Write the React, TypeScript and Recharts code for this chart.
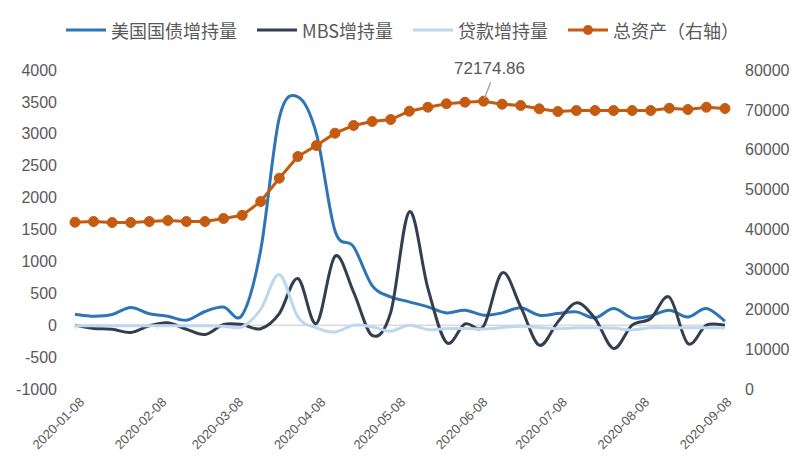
import React from 'react';
import { LineChart, Line, XAxis, YAxis, ReferenceLine } from 'recharts';

// weekly Fed balance sheet changes (亿美元), Wednesdays
const dates = [
  '2020-01-08', '2020-01-15', '2020-01-22', '2020-01-29', '2020-02-05', '2020-02-12',
  '2020-02-19', '2020-02-26', '2020-03-04', '2020-03-11', '2020-03-18', '2020-03-25',
  '2020-04-01', '2020-04-08', '2020-04-15', '2020-04-22', '2020-04-29', '2020-05-06',
  '2020-05-13', '2020-05-20', '2020-05-27', '2020-06-03', '2020-06-10', '2020-06-17',
  '2020-06-24', '2020-07-01', '2020-07-08', '2020-07-15', '2020-07-22', '2020-07-29',
  '2020-08-05', '2020-08-12', '2020-08-19', '2020-08-26', '2020-09-02', '2020-09-09',
];
const treasury = [
  172, 141, 167, 277, 180, 141, 78, 215, 285, 157, 1180, 3250,
  3580, 3000, 1480, 1230, 620, 444, 366, 287, 193, 235, 157, 193,
  272, 157, 183, 209, 115, 261, 115, 146, 235, 130, 261, 63,
];
const mbs = [
  0, -52, -63, -115, -10, 37, -63, -146, 10, 10, -55, 183,
  732, 26, 1081, 520, -160, 200, 1780, 580, -270, 20, -15, 820,
  287, -313, 52, 350, 105, -366, 0, 105, 440, -287, 0, 0,
];
const loans = [
  -10, -10, -10, -10, -10, -10, -10, -10, -15, -26, 250, 794,
  130, -42, -105, 0, -26, -95, 0, -70, -52, -52, -60, -36,
  -16, -36, -55, -40, -40, -45, -75, -40, -40, -40, -40, -45,
];
const totalAssets = [
  41830, 42000, 41750, 41750, 42000, 42250, 42000, 42000, 42760, 43560, 47020, 52860,
  58300, 61060, 64150, 66080, 67080, 67580, 69660, 70670, 71520, 71920, 72174.86, 71420,
  71090, 70260, 69590, 69840, 69840, 69840, 69840, 69840, 70420, 70090, 70670, 70340,
];
const monthTicks = [
  '2020-01-08', '2020-02-08', '2020-03-08', '2020-04-08', '2020-05-08',
  '2020-06-08', '2020-07-08', '2020-08-08', '2020-09-08',
];
const leftTicks = [-1000, -500, 0, 500, 1000, 1500, 2000, 2500, 3000, 3500, 4000];
const rightTicks = [0, 10000, 20000, 30000, 40000, 50000, 60000, 70000, 80000];

const C_TREASURY = '#2E75B6';
const C_MBS = '#333F50';
const C_LOANS = '#BDD7EE';
const C_TOTAL = '#C55A11';
const TEXT = '#595959';

const start = Date.parse(dates[0]);
const toDay = (d: string) => Math.round((Date.parse(d) - start) / 86400000);
const tickDays = monthTicks.map(toDay);

const data = dates.map((d, i) => ({
  day: toDay(d),
  treasury: treasury[i],
  mbs: mbs[i],
  loans: loans[i],
  total: totalAssets[i],
}));

const peakIdx = totalAssets.indexOf(Math.max(...totalAssets));

// Excel-style smoothed line (Catmull-Rom through the points)
const smooth = (context: any) => {
  let pts: number[][] = [];
  return {
    areaStart() {},
    areaEnd() {},
    lineStart() {
      pts = [];
    },
    point(x: number, y: number) {
      pts.push([+x, +y]);
    },
    lineEnd() {
      if (!pts.length) return;
      context.moveTo(pts[0][0], pts[0][1]);
      for (let i = 0; i < pts.length - 1; i++) {
        const p0 = pts[i - 1] || pts[i];
        const p1 = pts[i];
        const p2 = pts[i + 1];
        const p3 = pts[i + 2] || p2;
        context.bezierCurveTo(
          p1[0] + (p2[0] - p0[0]) / 6,
          p1[1] + (p2[1] - p0[1]) / 6,
          p2[0] - (p3[0] - p1[0]) / 6,
          p2[1] - (p3[1] - p1[1]) / 6,
          p2[0],
          p2[1],
        );
      }
    },
  };
};

const DateTick = ({ x, y, payload }: any) => {
  const label = monthTicks[tickDays.indexOf(payload.value)];
  return (
    <g transform={`translate(${x + 10},${y + 14})`}>
      <text textAnchor="end" transform="rotate(-45)" fontSize={13} fill={TEXT}>
        {label}
      </text>
    </g>
  );
};

const PeakLabel = (props: any) => {
  const { x, y, index, value } = props;
  if (index !== peakIdx) return null;
  return (
    <g>
      <line x1={x + 7} y1={y - 19} x2={x + 1} y2={y - 3} stroke="#A6A6A6" strokeWidth={1.5} />
      <text x={x + 6} y={y - 27} textAnchor="middle" fontSize={17} fill={TEXT}>
        {value}
      </text>
    </g>
  );
};

const legendItems = [
  { name: '美国国债增持量', color: C_TREASURY, dot: false },
  { name: 'MBS增持量', color: C_MBS, dot: false },
  { name: '贷款增持量', color: C_LOANS, dot: false },
  { name: '总资产（右轴）', color: C_TOTAL, dot: true },
];

export default function App() {
  return (
    <div style={{ position: 'relative', width: 805, height: 473, background: '#fff' }}>
      <style>{'body{margin:0}'}</style>
      {/* Legend */}
      <div
        style={{
          position: 'absolute',
          top: 17,
          left: 0,
          width: 805,
          display: 'flex',
          justifyContent: 'center',
          gap: 20,
          fontFamily: '"Noto Sans CJK SC", sans-serif',
          fontSize: 18,
          color: TEXT,
          zIndex: 1,
        }}
      >
        {legendItems.map((item) => (
          <div key={item.name} style={{ display: 'flex', alignItems: 'center', gap: 5 }}>
            <svg width={40} height={12}>
              <line x1={0} y1={6} x2={40} y2={6} stroke={item.color} strokeWidth={3} />
              {item.dot && <circle cx={20} cy={6} r={5} fill={item.color} />}
            </svg>
            <span>{item.name}</span>
          </div>
        ))}
      </div>

      <LineChart
        width={805}
        height={473}
        data={data}
        margin={{ top: 70, right: 20, bottom: 0, left: 15 }}
        style={{ fontFamily: '"Liberation Sans", Arial, sans-serif' }}
      >
        <XAxis
          dataKey="day"
          type="number"
          domain={[0, 245]}
          ticks={tickDays}
          interval={0}
          height={84}
          axisLine={false}
          tickLine={false}
          tickSize={0}
          tickMargin={0}
          tick={<DateTick />}
        />
        <YAxis
          yAxisId="left"
          domain={[-1000, 4000]}
          ticks={leftTicks}
          interval={0}
          width={60}
          axisLine={false}
          tickLine={false}
          tickSize={0}
          tickMargin={18}
          tick={{ fontSize: 16, fill: TEXT }}
        />
        <YAxis
          yAxisId="right"
          orientation="right"
          domain={[0, 80000]}
          ticks={rightTicks}
          interval={0}
          width={60}
          axisLine={false}
          tickLine={false}
          tickSize={0}
          tickMargin={20}
          tick={{ fontSize: 16, fill: TEXT }}
        />
        <ReferenceLine yAxisId="left" y={0} stroke="#D9D9D9" strokeWidth={1.5} />
        {tickDays.map((d) => (
          <ReferenceLine
            key={d}
            yAxisId="left"
            segment={[
              { x: d, y: 0 },
              { x: d, y: -70 },
            ]}
            stroke="#D9D9D9"
            strokeWidth={1}
          />
        ))}
        <Line
          yAxisId="left"
          dataKey="treasury"
          name="美国国债增持量"
          type={smooth as any}
          stroke={C_TREASURY}
          strokeWidth={3}
          dot={false}
          activeDot={false}
          isAnimationActive={false}
        />
        <Line
          yAxisId="left"
          dataKey="mbs"
          name="MBS增持量"
          type={smooth as any}
          stroke={C_MBS}
          strokeWidth={3}
          dot={false}
          activeDot={false}
          isAnimationActive={false}
        />
        <Line
          yAxisId="left"
          dataKey="loans"
          name="贷款增持量"
          type={smooth as any}
          stroke={C_LOANS}
          strokeWidth={3}
          dot={false}
          activeDot={false}
          isAnimationActive={false}
        />
        <Line
          yAxisId="right"
          dataKey="total"
          name="总资产（右轴）"
          type="linear"
          stroke={C_TOTAL}
          strokeWidth={3}
          dot={{ r: 5, fill: C_TOTAL, stroke: C_TOTAL, strokeWidth: 1 }}
          activeDot={false}
          label={<PeakLabel />}
          isAnimationActive={false}
        />
      </LineChart>
    </div>
  );
}
